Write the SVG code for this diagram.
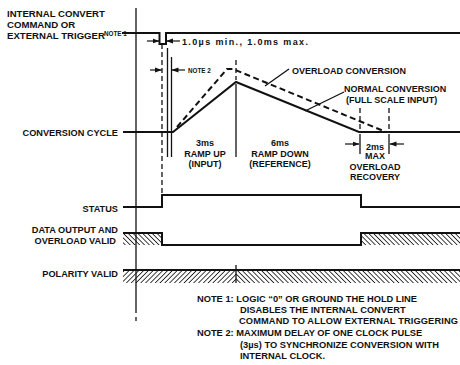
<svg xmlns="http://www.w3.org/2000/svg" width="460" height="365" viewBox="0 0 460 365">
<style>
text{font-family:"Liberation Sans",Arial,sans-serif;font-weight:bold;fill:#111}
.lbl{font-size:9.2px}
.big{font-size:9.6px}
.sm{font-size:9px}
.xs{font-size:6.3px}
.note{font-size:9.3px}
.sig{fill:none;stroke:#111;stroke-width:2}
.thin{fill:none;stroke:#111;stroke-width:1.3}
.dash{fill:none;stroke:#111;stroke-width:1.3;stroke-dasharray:5 3}
.dashb{fill:none;stroke:#111;stroke-width:2;stroke-dasharray:6 3.5}
.arr{fill:none;stroke:#111;stroke-width:1.2;marker-end:url(#ah)}
</style>
<defs>
<marker id="ah" markerWidth="7" markerHeight="6" refX="6.5" refY="3" orient="auto" markerUnits="userSpaceOnUse">
<path d="M0,0.5 L7,3 L0,5.5 Z" fill="#111"/>
</marker>
<pattern id="hb" width="3.4" height="3.4" patternUnits="userSpaceOnUse" patternTransform="rotate(-45)">
<line x1="0" y1="0" x2="0" y2="3.4" stroke="#111" stroke-width="1.6"/>
</pattern>
<pattern id="hf" width="3.4" height="3.4" patternUnits="userSpaceOnUse" patternTransform="rotate(45)">
<line x1="0" y1="0" x2="0" y2="3.4" stroke="#111" stroke-width="1.6"/>
</pattern>
</defs>
<rect width="460" height="365" fill="#fff"/>

<g id="labels">
<text class="big" x="7" y="17">INTERNAL CONVERT</text>
<text class="big" x="7" y="28">COMMAND OR</text>
<text class="big" x="7" y="39">EXTERNAL TRIGGER</text>
<text class="xs" x="104" y="36">NOTE 1</text>
<text class="lbl" x="118" y="136" text-anchor="end">CONVERSION CYCLE</text>
<text class="lbl" x="118" y="212" text-anchor="end">STATUS</text>
<text class="lbl" x="118" y="233" text-anchor="end">DATA OUTPUT AND</text>
<text class="lbl" x="116" y="244" text-anchor="end">OVERLOAD VALID</text>
<text class="lbl" x="118" y="277" text-anchor="end">POLARITY VALID</text>
</g>

<g id="axis">
<line class="thin" x1="136" y1="8" x2="136" y2="313"/>
<line class="thin" x1="136" y1="317" x2="136" y2="321"/>
</g>

<g id="trigger">
<path class="sig" d="M122,33 H159.5 V44 H166 V33 H460"/>
</g>

<g id="conversion">
<path class="sig" d="M123,132 H173 L236,82 L359,132 H460"/>
<path class="dashb" d="M177,127 L227,69 H233 L386,132"/>
</g>

<g id="status">
<path class="sig" d="M123,207 H162 V195 H361 V207 H460"/>
</g>

<g id="data">
<rect x="123" y="233" width="39" height="12" fill="url(#hb)"/>
<path class="sig" d="M123,233 H162 V245 H361 V233 H460"/>
<rect x="361" y="233" width="99" height="12" fill="url(#hb)"/>
</g>

<g id="polarity">
<rect x="123" y="270" width="113" height="13" fill="url(#hf)"/>
<rect x="236" y="270" width="224" height="13" fill="url(#hb)"/>
<line class="sig" x1="123" y1="270" x2="460" y2="270"/>
<line class="thin" x1="236" y1="265" x2="236" y2="283"/>
</g>

<g id="connectors">
<line class="dash" x1="162" y1="44" x2="162" y2="195"/>
<line class="thin" x1="167.5" y1="48" x2="167.5" y2="157"/>
<line class="thin" x1="171.5" y1="57" x2="171.5" y2="157"/>
<line class="arr" x1="147" y1="41" x2="159" y2="41"/>
<line class="arr" x1="180" y1="41" x2="166.5" y2="41"/>
<line class="arr" x1="150" y1="70" x2="161.5" y2="70"/>
<line class="arr" x1="185" y1="70" x2="172" y2="70"/>
<line class="dash" x1="236" y1="60" x2="236" y2="80"/>
<line class="thin" x1="236" y1="84" x2="236" y2="157"/>
<line class="dash" x1="360" y1="108" x2="360" y2="130"/>
<line class="thin" x1="360" y1="134" x2="360" y2="154"/>
<line class="dash" x1="389" y1="108" x2="389" y2="130"/>
<line class="thin" x1="389" y1="134" x2="389" y2="154"/>
<line class="arr" x1="345" y1="144" x2="359" y2="144"/>
<line class="arr" x1="404" y1="144" x2="390" y2="144"/>
<line class="thin" x1="289" y1="69" x2="265" y2="86"/>
<line class="thin" x1="344" y1="92" x2="305" y2="111"/>
</g>

<g id="annotations">
<text class="sm" x="182" y="44.5" textLength="126">1.0µs min., 1.0ms max.</text>
<text class="xs" x="188" y="72.5">NOTE 2</text>
<text class="sm" x="292" y="74">OVERLOAD CONVERSION</text>
<text class="sm" x="344" y="92">NORMAL CONVERSION</text>
<text class="sm" x="346" y="103">(FULL SCALE INPUT)</text>
<text class="sm" x="205" y="146" text-anchor="middle">3ms</text>
<text class="sm" x="205" y="156.5" text-anchor="middle">RAMP UP</text>
<text class="sm" x="205" y="167" text-anchor="middle">(INPUT)</text>
<text class="sm" x="280" y="146" text-anchor="middle">6ms</text>
<text class="sm" x="280" y="156.5" text-anchor="middle">RAMP DOWN</text>
<text class="sm" x="280" y="167" text-anchor="middle">(REFERENCE)</text>
<text class="sm" x="375" y="149.5" text-anchor="middle">2ms</text>
<text class="sm" x="375" y="159" text-anchor="middle">MAX</text>
<text class="sm" x="375" y="169.5" text-anchor="middle">OVERLOAD</text>
<text class="sm" x="375" y="179.5" text-anchor="middle">RECOVERY</text>
</g>

<g id="notes">
<text class="note" x="197" y="302">NOTE 1:  LOGIC “0” OR GROUND THE HOLD LINE</text>
<text class="note" x="240" y="313">DISABLES THE INTERNAL CONVERT</text>
<text class="note" x="239" y="324" textLength="219">COMMAND TO ALLOW EXTERNAL TRIGGERING</text>
<text class="note" x="197" y="336">NOTE 2:  MAXIMUM DELAY OF ONE CLOCK PULSE</text>
<text class="note" x="240" y="348">(3µs) TO SYNCHRONIZE CONVERSION WITH</text>
<text class="note" x="240" y="359">INTERNAL CLOCK.</text>
</g>
</svg>
